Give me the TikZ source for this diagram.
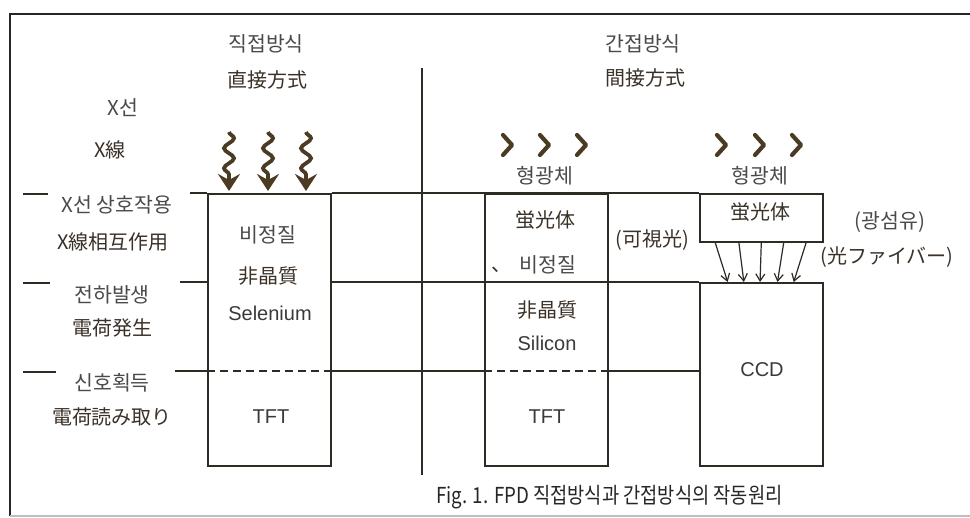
\documentclass[tikz,border=0pt]{standalone}
\usepackage{fontspec}
\setmainfont{Liberation Sans}
\newfontfamily\krfont{Noto Sans CJK KR}
\newfontfamily\jpfont{Noto Sans CJK JP}
\newfontfamily\capfont[FakeStretch=0.85]{Noto Sans CJK KR}
\usetikzlibrary{arrows.meta,decorations.pathmorphing,calc}
\definecolor{linec}{HTML}{2E2A24}
\definecolor{textc}{HTML}{3A3A3A}
\definecolor{krc}{HTML}{4A4A4A}
\definecolor{kanjic}{HTML}{3A3128}
\definecolor{arrowc}{HTML}{4A3B22}
\tikzset{
  txt/.style={inner sep=0pt, text=textc},
  krt/.style={txt, text=krc, font=\krfont\fontsize{20.5}{20.5}\selectfont},
  jpt/.style={txt, text=kanjic, font=\jpfont\fontsize{20}{20}\selectfont},
  latt/.style={txt, font=\fontsize{20}{20}\selectfont},
  boxshape/.style={draw=linec, line width=1.6pt, inner sep=0pt, anchor=north west},
  rule/.style={draw=linec, line width=1.6pt},
  dashrule/.style={draw=linec, line width=1.6pt, dash pattern=on 8pt off 5pt},
  wave/.style={draw=arrowc, line width=3.8pt, decorate,
     decoration={snake, amplitude=5pt, segment length=20pt, post length=16pt},
     -{Stealth[length=17pt,width=22pt,inset=6pt]}},
  chev/.style={draw=arrowc, line width=4.2pt, line cap=round, line join=round},
  fiber/.style={draw=linec, line width=1.2pt, -{Straight Barb[length=7pt,width=9pt]}}
}
\begin{document}
\begin{tikzpicture}[x=1pt,y=-1pt]
\useasboundingbox (0,0) rectangle (970,518);
\fill[white] (0,0) rectangle (970,518);
% frame
\draw[draw=black!85, line width=2.5pt] (10,516) -- (10,14) -- (970,14);
\draw[draw=black!25, line width=1.2pt] (10,516) -- (970,516);
% separator
\draw[rule] (422,68) -- (422,475);
% boxes
\node[boxshape, minimum width=123pt, minimum height=272pt] (dbox) at (207,193) {};
\node[boxshape, minimum width=123pt, minimum height=272pt] (ibox) at (484,193) {};
\node[boxshape, minimum width=123pt, minimum height=48pt] (pbox) at (699,193) {};
\node[boxshape, minimum width=123pt, minimum height=183pt] (cbox) at (699,282) {};
% horizontal rules
\draw[rule] (190,193) -- (dbox.north west);
\draw[rule] (dbox.north east) -- (pbox.north west);
\draw[rule] (23,194) -- (48,194);
\draw[rule] (23,283) -- (50,283);
\draw[rule] (23,372) -- (56,372);
\draw[rule] (180,282) -- (207,282);
\draw[rule] (330,282) -- (cbox.north west);
\draw[rule] (175,371) -- (207,371);
\draw[dashrule] (207,371) -- (330,371);
\draw[rule] (330,371) -- (484,371);
\draw[dashrule] (484,371) -- (607,371);
\draw[rule] (607,371) -- (699,371);
% wavy x-ray arrows
\draw[wave] (229,132) -- (229,191);
\draw[wave] (268,132) -- (268,191);
\draw[wave] (306,132) -- (306,191);
% chevrons
\foreach \cx in {508,545,582,722,760,797}
  \draw[chev] (\cx-5,135) -- (\cx+4,145) -- (\cx-5,155);
% fiber arrows
\foreach \a/\b in {0.13/0.23, 0.32/0.36, 0.50/0.49, 0.68/0.63, 0.86/0.76}
  \draw[fiber] ($(pbox.south west)!\a!(pbox.south east)$) -- ($(cbox.north west)!\b!(cbox.north east)$);
% header texts
\node[krt] (t1) at (266,44) {직접방식};
\node[jpt] (t2) at (267,80) {直接方式};
\node[krt] (t3) at (643,44) {간접방식};
\node[jpt] (t4) at (645,78) {間接方式};
\node[krt] (t5) at (123,108) {X선};
\node[jpt] (t6) at (110,150) {X線};
% left labels
\node[krt] (l1) at (117,205) {X선 상호작용};
\node[jpt] (l2) at (113,242) {X線相互作用};
\node[krt] (l3) at (112,295) {전하발생};
\node[jpt] (l4) at (112,328) {電荷発生};
\node[krt] (l5) at (112,383) {신호획득};
\node[jpt] (l6) at (112,417) {電荷読み取り};
% direct box texts
\node[krt] (d1) at (268,235) {비정질};
\node[jpt] (d2) at (268,276) {非晶質};
\node[latt] (d3) at (270,313) {Selenium};
\node[latt] (d4) at (271,417) {TFT};
% indirect column texts
\node[krt] (i0) at (545,176) {형광체};
\node[jpt] (i1) at (545,220) {蛍光体};
\node[jpt] (i2) at (501,270) {、};
\node[krt] (i3) at (548,265) {비정질};
\node[jpt] (i4) at (547,310) {非晶質};
\node[latt] (i5) at (547,343) {Silicon};
\node[latt] (i6) at (547,417) {TFT};
\node[jpt] (v1) at (652,240) {(可視光)};
% ccd column texts
\node[krt] (c0) at (760,176) {형광체};
\node[jpt] (c1) at (760,212) {蛍光体};
\node[latt] (c2) at (762,370) {CCD};
\node[krt] (c3) at (890,222) {(광섬유)};
\node[jpt] (c4) at (887,257) {(光ファイバー)};
% caption
\node[txt, text=black!85, anchor=west, font=\capfont\fontsize{22}{22}\selectfont] (cap) at (436,497) {Fig. 1. FPD 직접방식과 간접방식의 작동원리};
\end{tikzpicture}
\end{document}
